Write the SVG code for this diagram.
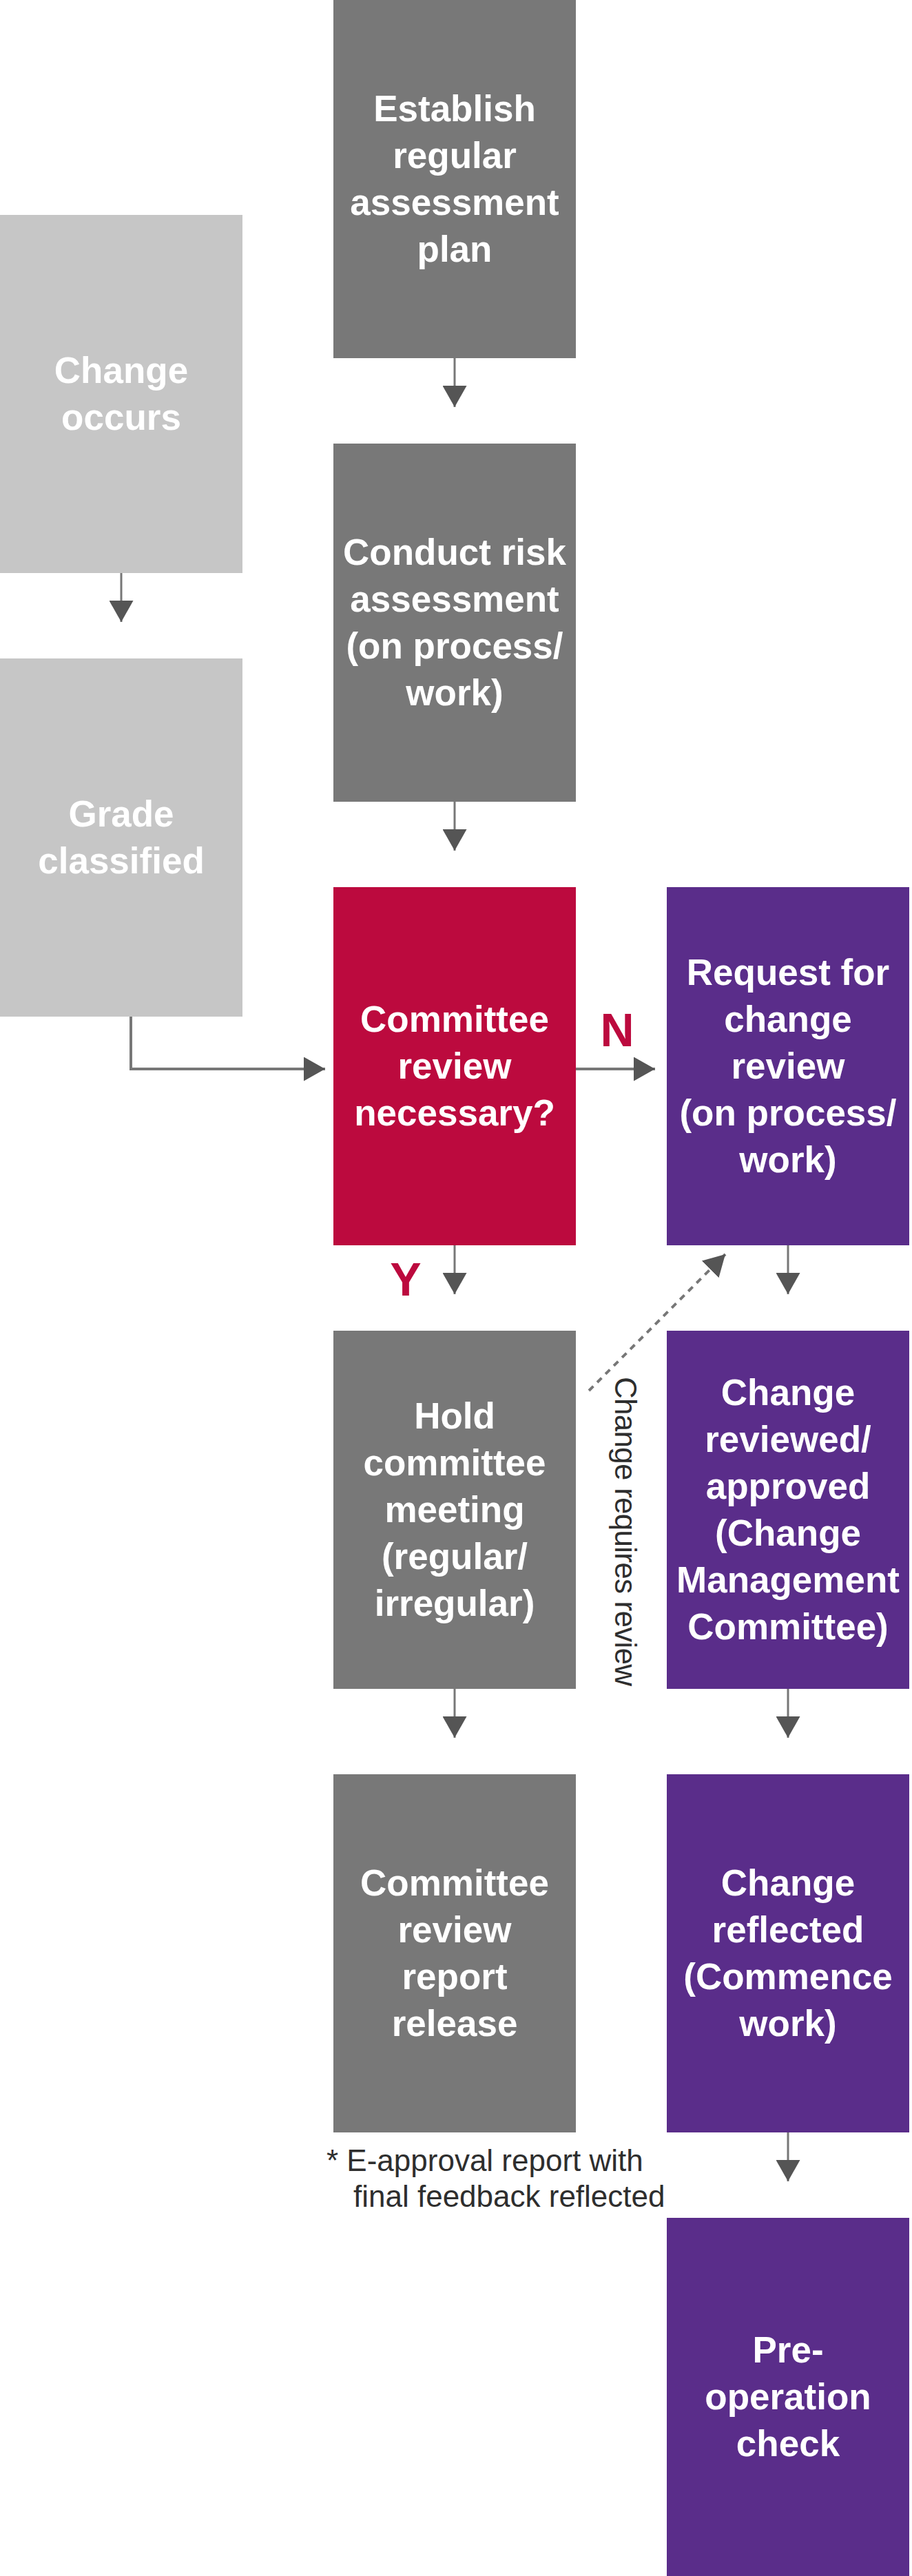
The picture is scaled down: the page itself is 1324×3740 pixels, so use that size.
<svg xmlns="http://www.w3.org/2000/svg" width="1324" height="3740" viewBox="0 0 1324 3740">
<defs>
<style>
.box-gray{fill:#787878}
.box-light{fill:#c6c6c6}
.box-red{fill:#bc0a3e}
.box-purple{fill:#5a2d8a}
.lbl{font-family:"Liberation Sans",Arial,sans-serif;font-weight:700;font-size:53px;fill:#ffffff;text-anchor:middle}
.conn{stroke:#777777;fill:none}
.v{stroke-width:3}
.h{stroke-width:4}
.dash{stroke-width:4;stroke-dasharray:9 8}
.yn{font-family:"Liberation Sans",Arial,sans-serif;font-weight:700;font-size:68px;fill:#bc0a3e;text-anchor:middle}
.note{font-family:"Liberation Sans",Arial,sans-serif;font-size:44px;fill:#2e2e2e}
</style>
<marker id="ah" viewBox="0 0 31 35" refX="31" refY="17.5" markerWidth="31" markerHeight="35" markerUnits="userSpaceOnUse" orient="auto"><path d="M0,0 L31,17.5 L0,35 Z" fill="#555555"/></marker>
</defs>
<rect x="0" y="0" width="1324" height="3740" fill="#ffffff"/>

<g id="connectors">
<line class="conn v" x1="660" y1="520" x2="660" y2="591" marker-end="url(#ah)"/>
<line class="conn v" x1="176" y1="832" x2="176" y2="903" marker-end="url(#ah)"/>
<line class="conn v" x1="660" y1="1164" x2="660" y2="1235" marker-end="url(#ah)"/>
<polyline class="conn h" points="190,1476 190,1552 472,1552" marker-end="url(#ah)"/>
<line class="conn h" x1="836" y1="1552" x2="951" y2="1552" marker-end="url(#ah)"/>
<line class="conn v" x1="660" y1="1808" x2="660" y2="1879" marker-end="url(#ah)"/>
<line class="conn v" x1="1144" y1="1808" x2="1144" y2="1879" marker-end="url(#ah)"/>
<line class="conn dash" x1="855" y1="2019" x2="1053" y2="1821" marker-end="url(#ah)"/>
<line class="conn v" x1="660" y1="2452" x2="660" y2="2523" marker-end="url(#ah)"/>
<line class="conn v" x1="1144" y1="2452" x2="1144" y2="2523" marker-end="url(#ah)"/>
<line class="conn v" x1="1144" y1="3096" x2="1144" y2="3167" marker-end="url(#ah)"/>
<text class="yn" x="896" y="1519">N</text>
<text class="yn" x="589" y="1881">Y</text>
<text class="note" transform="translate(893,1999) rotate(90)" x="0" y="0" textLength="449" lengthAdjust="spacing">Change requires review</text>
</g>

<g id="establish">
<rect class="box-gray" x="484" y="0" width="352" height="520"/>
<text class="lbl" x="660" y="176">Establish</text>
<text class="lbl" x="660" y="244">regular</text>
<text class="lbl" x="660" y="312">assessment</text>
<text class="lbl" x="660" y="380">plan</text>
</g>

<g id="change-occurs">
<rect class="box-light" x="0" y="312" width="352" height="520"/>
<text class="lbl" x="176" y="556">Change</text>
<text class="lbl" x="176" y="624">occurs</text>
</g>

<g id="conduct-risk">
<rect class="box-gray" x="484" y="644" width="352" height="520"/>
<text class="lbl" x="660" y="820">Conduct risk</text>
<text class="lbl" x="660" y="888">assessment</text>
<text class="lbl" x="660" y="956">(on process/</text>
<text class="lbl" x="660" y="1024">work)</text>
</g>

<g id="grade-classified">
<rect class="box-light" x="0" y="956" width="352" height="520"/>
<text class="lbl" x="176" y="1200">Grade</text>
<text class="lbl" x="176" y="1268">classified</text>
</g>

<g id="committee-review-necessary">
<rect class="box-red" x="484" y="1288" width="352" height="520"/>
<text class="lbl" x="660" y="1498">Committee</text>
<text class="lbl" x="660" y="1566">review</text>
<text class="lbl" x="660" y="1634">necessary?</text>
</g>

<g id="request-change-review">
<rect class="box-purple" x="968" y="1288" width="352" height="520"/>
<text class="lbl" x="1144" y="1430">Request for</text>
<text class="lbl" x="1144" y="1498">change</text>
<text class="lbl" x="1144" y="1566">review</text>
<text class="lbl" x="1144" y="1634">(on process/</text>
<text class="lbl" x="1144" y="1702">work)</text>
</g>

<g id="hold-committee-meeting">
<rect class="box-gray" x="484" y="1932" width="352" height="520"/>
<text class="lbl" x="660" y="2074">Hold</text>
<text class="lbl" x="660" y="2142">committee</text>
<text class="lbl" x="660" y="2210">meeting</text>
<text class="lbl" x="660" y="2278">(regular/</text>
<text class="lbl" x="660" y="2346">irregular)</text>
</g>

<g id="change-reviewed">
<rect class="box-purple" x="968" y="1932" width="352" height="520"/>
<text class="lbl" x="1144" y="2040">Change</text>
<text class="lbl" x="1144" y="2108">reviewed/</text>
<text class="lbl" x="1144" y="2176">approved</text>
<text class="lbl" x="1144" y="2244">(Change</text>
<text class="lbl" x="1144" y="2312">Management</text>
<text class="lbl" x="1144" y="2380">Committee)</text>
</g>

<g id="committee-review-report">
<rect class="box-gray" x="484" y="2576" width="352" height="520"/>
<text class="lbl" x="660" y="2752">Committee</text>
<text class="lbl" x="660" y="2820">review</text>
<text class="lbl" x="660" y="2888">report</text>
<text class="lbl" x="660" y="2956">release</text>
</g>

<g id="change-reflected">
<rect class="box-purple" x="968" y="2576" width="352" height="520"/>
<text class="lbl" x="1144" y="2752">Change</text>
<text class="lbl" x="1144" y="2820">reflected</text>
<text class="lbl" x="1144" y="2888">(Commence</text>
<text class="lbl" x="1144" y="2956">work)</text>
</g>

<g id="pre-operation-check">
<rect class="box-purple" x="968" y="3220" width="352" height="520"/>
<text class="lbl" x="1144" y="3430">Pre-</text>
<text class="lbl" x="1144" y="3498">operation</text>
<text class="lbl" x="1144" y="3566">check</text>
</g>

<g id="footnote">
<text class="note" x="474" y="3152">* E-approval report with</text>
<text class="note" x="513" y="3204">final feedback reflected</text>
</g>
</svg>
